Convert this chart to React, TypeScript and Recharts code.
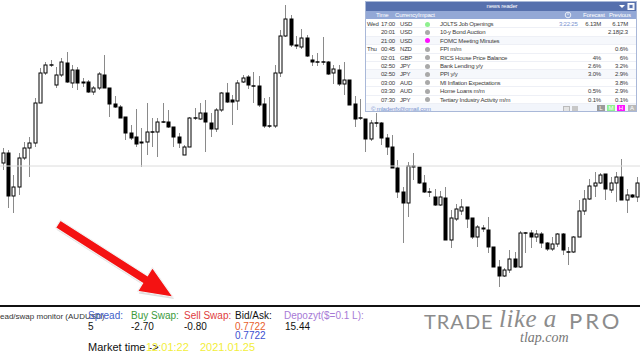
import React from 'react';
import { ComposedChart, Bar, XAxis, YAxis, ReferenceLine } from 'recharts';

// candle prices, in points above the bottom of the chart window
const OPEN = [
  137, 147, 104, 113, 142, 152, 157, 197, 227, 235,
  215, 225, 237, 217, 230, 218, 218, 208, 212, 225,
  212, 196, 193, 183, 167, 163, 157, 158, 168, 168,
  178, 178, 173, 163, 145, 153, 182, 181, 187, 177,
  171, 190, 207, 200, 199, 218, 223, 214, 214, 196,
  174, 174, 227, 264, 281, 255, 253, 262, 240, 238,
  238, 238, 227, 230, 216, 220, 196, 182, 181, 161,
  177, 177, 162, 153, 132, 108, 97, 134, 133, 117,
  108, 103, 95, 102, 60, 81, 89, 93, 82, 63,
  72, 70, 53, 33, 24, 30, 41, 33, 67, 67,
  63, 66, 57, 51, 56, 66, 48, 48, 63, 89,
  101, 114, 117, 126, 110, 117, 123, 100, 105, 103,
];
const HIGH = [
  152, 150, 125, 147, 158, 163, 202, 232, 238, 240,
  233, 242, 248, 235, 233, 222, 220, 214, 228, 245,
  212, 204, 195, 183, 175, 191, 172, 197, 182, 182,
  197, 190, 173, 167, 155, 183, 192, 197, 200, 187,
  192, 208, 217, 205, 220, 225, 225, 228, 224, 202,
  203, 235, 270, 295, 285, 264, 271, 265, 245, 247,
  263, 239, 235, 235, 238, 220, 204, 201, 181, 180,
  187, 178, 166, 165, 140, 113, 138, 147, 133, 125,
  112, 111, 109, 113, 90, 96, 101, 93, 82, 75,
  75, 83, 53, 40, 32, 50, 48, 69, 68, 70,
  70, 68, 58, 63, 67, 67, 53, 64, 100, 110,
  121, 128, 127, 126, 123, 128, 141, 111, 106, 123,
];
const LOW = [
  130, 92, 87, 105, 140, 123, 153, 197, 225, 233,
  212, 223, 217, 212, 210, 213, 207, 205, 210, 212,
  183, 192, 182, 160, 160, 153, 133, 145, 153, 143,
  177, 172, 153, 152, 145, 153, 180, 180, 148, 163,
  168, 188, 197, 175, 190, 217, 211, 197, 193, 172,
  172, 172, 223, 263, 253, 251, 251, 243, 234, 234,
  235, 225, 216, 214, 205, 195, 173, 180, 148, 159,
  173, 155, 145, 132, 102, 57, 83, 120, 116, 107,
  103, 94, 94, 60, 52, 79, 85, 72, 61, 53,
  68, 47, 33, 13, 23, 27, 32, 32, 47, 52,
  58, 52, 49, 49, 53, 45, 35, 47, 63, 85,
  100, 103, 116, 100, 107, 98, 100, 87, 102, 98,
];
const CLOSE = [
  147, 104, 113, 142, 152, 157, 197, 227, 235, 235,
  225, 238, 218, 230, 217, 217, 208, 212, 226, 212,
  196, 193, 182, 167, 162, 156, 158, 168, 168, 178,
  178, 173, 163, 157, 153, 182, 182, 187, 178, 171,
  190, 207, 198, 198, 217, 222, 215, 214, 195, 174,
  174, 227, 264, 281, 255, 254, 262, 244, 238, 238,
  238, 226, 231, 216, 220, 195, 181, 182, 161, 177,
  177, 162, 153, 132, 108, 97, 134, 133, 117, 108,
  108, 95, 103, 60, 82, 91, 93, 81, 63, 73,
  71, 53, 33, 24, 30, 41, 33, 67, 67, 63,
  66, 57, 51, 56, 66, 50, 48, 63, 89, 101,
  114, 117, 125, 111, 117, 123, 100, 105, 103, 117,
];
const PRICE_LINE = 134;

// news reader rows
const NEWS_DAY = ['Wed', '', '', 'Thu', '', '', '', '', '', ''];
const NEWS_TIME = ['17:00', '20:01', '21:00', '00:45', '02:01', '02:50', '02:50', '03:00', '03:30', '07:30'];
const NEWS_CCY = ['USD', 'USD', 'USD', 'NZD', 'GBP', 'JPY', 'JPY', 'AUD', 'AUD', 'JPY'];
const NEWS_IMPACT = ['M', 'L', 'H', 'L', 'L', 'L', 'L', 'L', 'L', 'L'];
const NEWS_EVENT = [
  'JOLTS Job Openings', '10-y Bond Auction', 'FOMC Meeting Minutes', 'FPI m/m',
  'RICS House Price Balance', 'Bank Lending y/y', 'PPI y/y', 'MI Inflation Expectations',
  'Home Loans m/m', 'Tertiary Industry Activity m/m',
];
const NEWS_FORECAST = ['6.13M', '', '', '', '4%', '2.6%', '3.0%', '', '0.5%', '0.1%'];
const NEWS_PREVIOUS = ['6.17M', '2.18|2.3', '', '0.6%', '6%', '3.2%', '2.9%', '3.8%', '2.9%', '0.1%'];
const COUNTDOWN = '3:22:25';

const IMPACT_COLORS: Record<string, string> = { L: '#a9a9a9', M: '#8ff08f', H: '#ff10ff' };

const data = OPEN.map((o, i) => ({
  i,
  open: o,
  high: HIGH[i],
  low: LOW[i],
  close: CLOSE[i],
  range: [LOW[i], HIGH[i]],
}));

const Candle = (props: any) => {
  const { x, y, width, height, payload } = props;
  if (x == null || y == null) return null;
  const top = Math.min(y, y + height);
  const h = Math.abs(height);
  const { open, close, high, low } = payload;
  const span = high - low;
  const toY = (v: number) => (span === 0 ? top : top + ((high - v) / span) * h);
  const cx = Math.round(x + width / 2) + 0.5;
  const yo = toY(open);
  const yc = toY(close);
  const bodyTop = Math.min(yo, yc);
  const bodyH = Math.abs(yo - yc);
  const up = close >= open;
  return (
    <g>
      <line x1={cx} x2={cx} y1={top} y2={top + h} stroke="#8a8a8a" strokeWidth={1} />
      {bodyH < 1 ? (
        <line x1={cx - 2} x2={cx + 2} y1={bodyTop} y2={bodyTop} stroke="#000" strokeWidth={1.5} />
      ) : (
        <rect
          x={cx - 1.5}
          y={bodyTop}
          width={3}
          height={bodyH}
          fill={up ? '#fff' : '#000'}
          stroke="#000"
          strokeWidth={1}
        />
      )}
    </g>
  );
};

const sans = '"Liberation Sans", Arial, sans-serif';

const NewsReader = () => {
  const rowTop = (i: number) => 18 + i * 8.4;
  const cell: React.CSSProperties = {
    position: 'absolute', fontSize: 6, letterSpacing: -0.2, lineHeight: '8px', color: '#3a3a3a', whiteSpace: 'nowrap',
  };
  return (
    <div
      style={{
        position: 'absolute', left: 365, top: 1, width: 272, height: 111, background: '#fff',
        border: '1px solid #a9b8d8', boxSizing: 'border-box', fontFamily: sans, overflow: 'hidden',
      }}
    >
      <div style={{ position: 'absolute', left: 0, top: 0, width: 272, height: 9, background: '#5670ad' }}>
        <div style={{ ...cell, color: '#fff', left: 0, width: 272, textAlign: 'center', top: 0, lineHeight: '9px' }}>news reader</div>
        <svg width={20} height={9} style={{ position: 'absolute', left: 250, top: 0 }}>
          <polygon points="3,3 9,3 6,6" fill="#fff" />
          <rect x={12} y={1.5} width={6} height={6} fill="#dfe6f5" stroke="#fff" />
          <rect x={13.5} y={3} width={3} height={3} fill="#5670ad" />
        </svg>
      </div>
      <div style={{ position: 'absolute', left: 0, top: 9, width: 272, height: 8, background: '#93a8d6' }}>
        {[['Time', 10], ['Currency', 29], ['Impact', 52], ['Forecast', 217], ['Previous', 243]].map(([t, l]) => (
          <div key={t as string} style={{ ...cell, color: '#fff', left: l as number, top: 0 }}>{t}</div>
        ))}
        <svg width={8} height={8} style={{ position: 'absolute', left: 198, top: 0 }}>
          <circle cx={4} cy={4} r={2.8} fill="none" stroke="#fff" strokeWidth={0.8} />
          <line x1={4} y1={4} x2={4} y2={2.2} stroke="#fff" strokeWidth={0.8} />
        </svg>
      </div>
      {NEWS_EVENT.map((ev, i) => (
        <div key={i} style={{ position: 'absolute', left: 0, top: rowTop(i), width: 272, height: 8.4, borderBottom: '1px solid #eef0f6', boxSizing: 'border-box', background: i === 2 || i === 6 ? '#f6f8fc' : '#fff' }}>
          <div style={{ ...cell, left: 1, top: 0 }}>{NEWS_DAY[i]}</div>
          <div style={{ ...cell, left: 13, width: 16, textAlign: 'right', top: 0 }}>{NEWS_TIME[i]}</div>
          <div style={{ ...cell, left: 34, top: 0 }}>{NEWS_CCY[i]}</div>
          <div style={{ position: 'absolute', left: 58.5, top: 1.5, width: 5, height: 5, borderRadius: 3, background: IMPACT_COLORS[NEWS_IMPACT[i]] }} />
          <div style={{ ...cell, left: 74, top: 0 }}>{ev}</div>
          {i === 0 && <div style={{ ...cell, left: 193, top: 0, color: '#7b93cf' }}>{COUNTDOWN}</div>}
          <div style={{ ...cell, left: 205, width: 30, textAlign: 'right', top: 0 }}>{NEWS_FORECAST[i]}</div>
          <div style={{ ...cell, left: 232, width: 30, textAlign: 'right', top: 0 }}>{NEWS_PREVIOUS[i]}</div>
        </div>
      ))}
      <div style={{ position: 'absolute', left: 0, top: 102, width: 272, height: 9, background: '#f2f5fb' }}>
        <div style={{ ...cell, left: 5, top: 1, color: '#7b93cf' }}>© mladenfx@gmail.com</div>
        <div style={{ position: 'absolute', left: 197, top: 2, width: 7, height: 6, background: '#e4e4e4', border: '1px solid #bbb', boxSizing: 'border-box' }} />
        <div style={{ position: 'absolute', left: 206, top: 2, width: 6, height: 6, background: '#c8c8c8' }} />
        {[['L', '#9a9a9a', 231], ['M', '#8ff08f', 241], ['H', '#ff10ff', 251], ['A', '#b9b9b9', 262]].map(([t, c, l]) => (
          <div key={t as string} style={{ position: 'absolute', left: l as number, top: 1, width: 8, height: 7, background: c as string, color: '#fff', fontSize: 6, lineHeight: '7px', textAlign: 'center' }}>{t}</div>
        ))}
      </div>
    </div>
  );
};

const Arrow = () => (
  <svg width={640} height={362} style={{ position: 'absolute', left: 0, top: 0, pointerEvents: 'none' }}>
    <polygon
      points="61.4,222.2 148.4,277.7 153.4,269.6 174,299 138.6,293.4 143.6,285.3 56.6,229.8"
      fill="#c8c8c8"
      opacity={0.6}
    />
    <polygon
      points="60.4,220.2 147.4,275.7 152.4,267.6 173,297 137.6,291.4 142.6,283.3 55.6,227.8"
      fill="#f41212"
      stroke="#f3f3f3"
      strokeWidth={1.2}
    />
  </svg>
);

const txt = (left: number, top: number, text: string, color = '#111', size = 10): React.ReactNode => (
  <div style={{ position: 'absolute', left, top, fontSize: size, lineHeight: 1, color, fontFamily: sans, whiteSpace: 'nowrap' }}>{text}</div>
);

const logo: React.CSSProperties = { position: 'absolute', color: '#8c8c8c', whiteSpace: 'nowrap', lineHeight: 1 };

const App = () => {
  return (
    <div style={{ position: 'absolute', left: 0, top: 0, width: 640, height: 362, background: '#fff', overflow: 'hidden' }}>
      <ComposedChart width={640} height={362} data={data} margin={{ top: 0, right: 0, bottom: 62, left: 0 }} barCategoryGap={1}>
        <XAxis dataKey="i" hide />
        <YAxis hide domain={[0, 300]} allowDataOverflow />
        <ReferenceLine y={PRICE_LINE} stroke="#dcdcdc" strokeWidth={1} />
        <Bar dataKey="range" shape={<Candle />} isAnimationActive={false} />
      </ComposedChart>
      <NewsReader />
      <Arrow />
      <div style={{ position: 'absolute', left: 0, top: 305, width: 640, height: 2, background: '#111' }} />
      {txt(0, 313, 'ead/swap monitor (AUDUSD)', '#333', 8)}
      {txt(88, 311, 'Spread:', '#4060c8')}
      {txt(88, 322, '5')}
      {txt(131, 311, 'Buy Swap:', '#3a9a3a')}
      {txt(131, 322, '-2.70')}
      {txt(184, 311, 'Sell Swap:', '#e03c3c')}
      {txt(184, 322, '-0.80')}
      {txt(235, 311, 'Bid/Ask:')}
      {txt(235, 322, '0.7722', '#e8602c')}
      {txt(235, 331, '0.7722', '#3c50d0')}
      {txt(284, 311, 'Depozyt($=0.1 L):', '#a77ad6')}
      {txt(285, 322, '15.44')}
      {txt(88, 342, 'Market time ->', '#111', 11)}
      {txt(146, 342, '12:01:22', '#f2ee3a', 11)}
      {txt(200, 342, '2021.01.25', '#f2ee3a', 11)}
      <div style={{ ...logo, left: 424, top: 311, fontFamily: 'Lato, sans-serif', fontSize: 20, letterSpacing: 1 }}>TRADE</div>
      <div style={{ ...logo, left: 499, top: 306, fontFamily: '"Liberation Serif", serif', fontStyle: 'italic', fontSize: 25, letterSpacing: 0.5 }}>like a</div>
      <div style={{ ...logo, left: 569, top: 310, fontFamily: 'Lato, sans-serif', fontSize: 22, letterSpacing: 3 }}>PRO</div>
      <div style={{ ...logo, left: 520, top: 331, color: '#777', fontFamily: '"Liberation Serif", serif', fontStyle: 'italic', fontSize: 14 }}>tlap.com</div>
    </div>
  );
};

export default App;
